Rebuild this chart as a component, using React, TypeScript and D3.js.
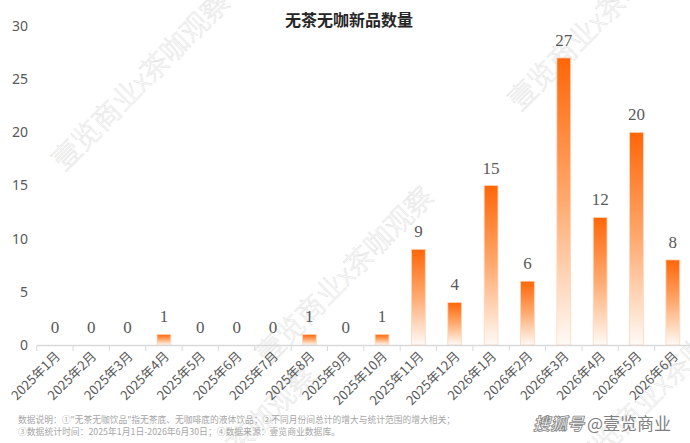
import React, { useEffect, useRef } from 'react';
import * as d3 from 'd3';

const months = [
  '2025年1月', '2025年2月', '2025年3月', '2025年4月', '2025年5月', '2025年6月',
  '2025年7月', '2025年8月', '2025年9月', '2025年10月', '2025年11月', '2025年12月',
  '2026年1月', '2026年2月', '2026年3月', '2026年4月', '2026年5月', '2026年6月',
];
const counts = [0, 0, 0, 1, 0, 0, 0, 1, 0, 1, 9, 4, 15, 6, 27, 12, 20, 8];
const yTicks = [0, 5, 10, 15, 20, 25, 30];

const title = '无茶无咖新品数量';
const notes = [
  '数据说明：①"无茶无咖饮品"指无茶底、无咖啡底的液体饮品；②不同月份间总计的增大与统计范围的增大相关；',
  '③数据统计时间：2025年1月1日-2026年6月30日；④数据来源：壹览商业数据库。',
];
const watermark = '壹览商业x茶咖观察';

const App: React.FC = () => {
  const svgRef = useRef<SVGSVGElement>(null);

  useEffect(() => {
    if (!svgRef.current) return;
    const svg = d3.select(svgRef.current);
    svg.selectAll('*').remove();

    const x = d3.scaleBand<string>()
      .domain(months)
      .range([36.7, 691])
      .paddingInner(0.62)
      .paddingOuter(0.31);

    const y = d3.scaleLinear().domain([0, 30]).range([345, 26]);

    const defs = svg.append('defs');
    const grad = defs.append('linearGradient')
      .attr('id', 'barGrad')
      .attr('x1', 0).attr('y1', 0).attr('x2', 0).attr('y2', 1);
    grad.append('stop').attr('offset', '0%').attr('stop-color', '#ff6608');
    grad.append('stop').attr('offset', '50%').attr('stop-color', '#ffaa70');
    grad.append('stop').attr('offset', '100%').attr('stop-color', '#fffaf6');

    // watermarks (faint, diagonal)
    const wm = svg.append('g');
    const wmSpots: [number, number][] = [[64, 172], [268, 366], [520, 112], [-175, 405], [585, 475], [150, 545]];
    wmSpots.forEach(([wx, wy]) => {
      wm.append('text')
        .attr('transform', `translate(${wx},${wy}) rotate(-45)`)
        .attr('font-family', '"Noto Sans CJK SC", sans-serif')
        .attr('font-size', 28)
        .attr('font-weight', 300)
        .attr('fill', 'none')
        .attr('stroke', '#e4e4e4')
        .attr('stroke-width', 0.6)
        .text(watermark);
    });

    // title
    svg.append('text')
      .attr('x', 349)
      .attr('y', 26)
      .attr('text-anchor', 'middle')
      .attr('font-family', '"Noto Sans CJK SC", sans-serif')
      .attr('font-weight', 'bold')
      .attr('font-size', 16)
      .attr('fill', '#262626')
      .text(title);

    // y axis labels
    svg.append('g')
      .selectAll('text')
      .data(yTicks)
      .join('text')
      .attr('x', 28)
      .attr('y', d => y(d))
      .attr('dy', '0.35em')
      .attr('text-anchor', 'end')
      .attr('font-family', '"Noto Sans", sans-serif')
      .attr('font-size', 14)
      .attr('fill', '#595959')
      .text(d => d);

    // bars
    svg.append('g')
      .selectAll('rect')
      .data(counts)
      .join('rect')
      .attr('x', (_, i) => x(months[i])!)
      .attr('y', d => y(d))
      .attr('width', x.bandwidth())
      .attr('height', d => y(0) - y(d))
      .attr('fill', 'url(#barGrad)')
      .attr('stroke', '#fdd8bd')
      .attr('stroke-width', d => (d > 0 ? 0.8 : 0));

    // value labels
    svg.append('g')
      .selectAll('text')
      .data(counts)
      .join('text')
      .attr('x', (_, i) => x(months[i])! + x.bandwidth() / 2)
      .attr('y', d => y(d) - 12)
      .attr('text-anchor', 'middle')
      .attr('font-family', '"Liberation Serif", serif')
      .attr('font-size', 17)
      .attr('fill', '#595959')
      .text(d => d);

    // x axis
    const axis = svg.append('g');
    axis.append('line')
      .attr('x1', 36.7).attr('x2', 690)
      .attr('y1', 345.5).attr('y2', 345.5)
      .attr('stroke', '#d9d9d9')
      .attr('stroke-width', 1.5);
    const step = x.step();
    axis.selectAll('line.tick')
      .data(d3.range(months.length + 1))
      .join('line')
      .attr('class', 'tick')
      .attr('x1', i => 36.7 + i * step)
      .attr('x2', i => 36.7 + i * step)
      .attr('y1', 345.5)
      .attr('y2', 351)
      .attr('stroke', '#d9d9d9')
      .attr('stroke-width', 1);
    axis.selectAll('text')
      .data(months)
      .join('text')
      .attr('transform', d => `translate(${x(d)! + x.bandwidth() / 2 + 6},${357}) rotate(-45)`)
      .attr('text-anchor', 'end')
      .attr('font-family', '"Noto Sans CJK SC", sans-serif')
      .attr('font-size', 13)
      .attr('fill', '#595959')
      .text(d => d);

    // footer notes
    svg.append('g')
      .selectAll('text')
      .data(notes)
      .join('text')
      .attr('x', 18)
      .attr('y', (_, i) => 423 + i * 12)
      .attr('font-family', '"Noto Sans CJK SC", sans-serif')
      .attr('font-size', 9)
      .attr('fill', '#a6a6a6')
      .attr('textLength', (_, i) => (i === 0 ? 437 : 322))
      .attr('lengthAdjust', 'spacingAndGlyphs')
      .text(d => d);

    // source logo
    svg.append('text')
      .attr('x', 533)
      .attr('y', 430)
      .attr('font-family', '"Noto Sans CJK SC", sans-serif')
      .attr('font-size', 17)
      .attr('font-style', 'italic')
      .attr('font-weight', 'bold')
      .attr('fill', '#ffffff')
      .attr('stroke', '#8c8c8c')
      .attr('stroke-width', 0.9)
      .text('搜狐号');
    svg.append('text')
      .attr('x', 587)
      .attr('y', 430)
      .attr('font-family', '"Noto Sans CJK SC", sans-serif')
      .attr('font-size', 17)
      .attr('fill', '#7f7f7f')
      .text('@壹览商业');
  }, []);

  return (
    <div style={{ position: 'absolute', left: 0, top: 0, background: '#fff' }}>
      <svg ref={svgRef} width={690} height={443} style={{ display: 'block' }} />
    </div>
  );
};

export default App;
